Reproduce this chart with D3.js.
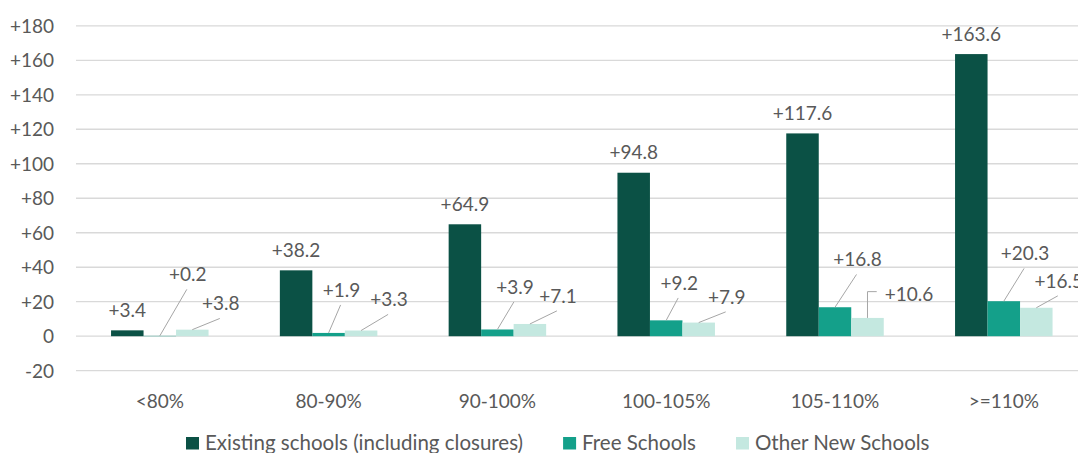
<!DOCTYPE html>
<html>
<head>
<meta charset="utf-8">
<script src="https://cdn.jsdelivr.net/npm/d3@7/dist/d3.min.js"></script>
<style>
  html, body { margin: 0; padding: 0; background: #fff; overflow: hidden; }
  svg { display: block; font-family: Lato, "Open Sans", sans-serif; }
</style>
</head>
<body>
<svg id="chart" width="1078" height="453"></svg>
<script>
// ---- data ----
const categories = ["<80%", "80-90%", "90-100%", "100-105%", "105-110%", ">=110%"];
const seriesNames = ["Existing schools (including closures)", "Free Schools", "Other New Schools"];
const existingSchools = [3.4, 38.2, 64.9, 94.8, 117.6, 163.6];
const freeSchools = [0.2, 1.9, 3.9, 9.2, 16.8, 20.3];
const otherNewSchools = [3.8, 3.3, 7.1, 7.9, 10.6, 16.5];
const yTicks = [-20, 0, 20, 40, 60, 80, 100, 120, 140, 160, 180];

// ---- layout / style (not data) ----
const colors = ["#0B5145", "#14A08A", "#C4E8E0"];
// manual label placement offsets (label centre relative to bar top-centre) for moved labels
const freeLabelOffsets = [[28, -54.5], [13, -36], [17.5, -35.6], [13, -30.4], [22.5, -40.8], [21.3, -40.8]];
const otherLabelOffsets = [[28.5, -19.2], [28, -24.1], [28, -21.1], [28, -18.7], [41.5, -17, "elbow"], [22.5, -19.9]];

const svg = d3.select("#chart");
const textColor = "#595959";
const fontSize = 19;
const legendFontSize = 20.5;

const y = d3.scaleLinear().domain([-20, 180]).range([370.7, 25.8]);
const x0 = d3.scaleBand().domain(categories).range([75.4, 1088.2]).paddingInner(0.4224).paddingOuter(0.2112);
const x1 = d3.scaleBand().domain(seriesNames).range([0, x0.bandwidth()]);

// gridlines
svg.append("g").selectAll("line").data(yTicks).join("line")
  .attr("x1", 76).attr("x2", 1078)
  .attr("y1", d => y(d)).attr("y2", d => y(d))
  .attr("stroke", "#D9D9D9").attr("stroke-width", 1.3);

// y axis labels
svg.append("g").selectAll("text").data(yTicks).join("text")
  .attr("x", 54).attr("y", d => y(d) + 7)
  .attr("text-anchor", "end")
  .attr("font-size", fontSize).attr("fill", textColor)
  .text(d => d > 0 ? "+" + d : String(d));

// category labels
svg.append("g").selectAll("text").data(categories).join("text")
  .attr("x", d => x0(d) + x0.bandwidth() / 2)
  .attr("y", 408)
  .attr("text-anchor", "middle")
  .attr("font-size", fontSize).attr("fill", textColor)
  .text(d => d);

const seriesValues = [existingSchools, freeSchools, otherNewSchools];
const fmt = v => "+" + v.toFixed(1);

seriesValues.forEach((vals, si) => {
  const g = svg.append("g");
  g.selectAll("rect").data(vals).join("rect")
    .attr("x", (d, i) => x0(categories[i]) + x1(seriesNames[si]))
    .attr("width", x1.bandwidth())
    .attr("y", d => y(Math.max(0, d)))
    .attr("height", d => Math.abs(y(d) - y(0)))
    .attr("fill", colors[si]);
});

// labels
const labelG = svg.append("g");
// existing: centered above bar
existingSchools.forEach((v, i) => {
  const cx = x0(categories[i]) + x1(seriesNames[0]) + x1.bandwidth() / 2;
  labelG.append("text")
    .attr("x", cx).attr("y", y(v) - 13.5)
    .attr("text-anchor", "middle").attr("font-size", fontSize).attr("fill", textColor)
    .text(fmt(v));
});

function movedLabels(vals, si, offsets) {
  vals.forEach((v, i) => {
    const bx = x0(categories[i]) + x1(seriesNames[si]) + x1.bandwidth() / 2;
    const by = y(v);
    const off = offsets[i];
    const lx = bx + off[0], ly = by + off[1];
    const t = labelG.append("text")
      .attr("x", lx).attr("y", ly)
      .attr("text-anchor", "middle").attr("font-size", fontSize).attr("fill", textColor)
      .text(fmt(v));
    if (off[2] === "elbow") {
      const w = t.node().getComputedTextLength();
      const sx = lx - w / 2 - 8, sy = ly - 9.3;
      labelG.append("path")
        .attr("d", `M${sx},${sy}H${bx}V${by}`)
        .attr("fill", "none").attr("stroke", "#A6A6A6").attr("stroke-width", 1);
    } else {
      labelG.append("line")
        .attr("x1", lx - 1).attr("y1", ly + 8)
        .attr("x2", bx).attr("y2", by)
        .attr("stroke", "#A6A6A6").attr("stroke-width", 1);
    }
  });
}
movedLabels(freeSchools, 1, freeLabelOffsets);
movedLabels(otherNewSchools, 2, otherLabelOffsets);

// legend
const legend = svg.append("g");
let lx = 186;
seriesNames.forEach((name, i) => {
  legend.append("rect")
    .attr("x", lx).attr("y", 437).attr("width", 13).attr("height", 12.5)
    .attr("fill", colors[i]);
  const t = legend.append("text")
    .attr("x", lx + 19).attr("y", 450)
    .attr("font-size", legendFontSize).attr("fill", textColor)
    .text(name);
  lx += 19 + t.node().getComputedTextLength() + 40;
});
</script>
</body>
</html>
